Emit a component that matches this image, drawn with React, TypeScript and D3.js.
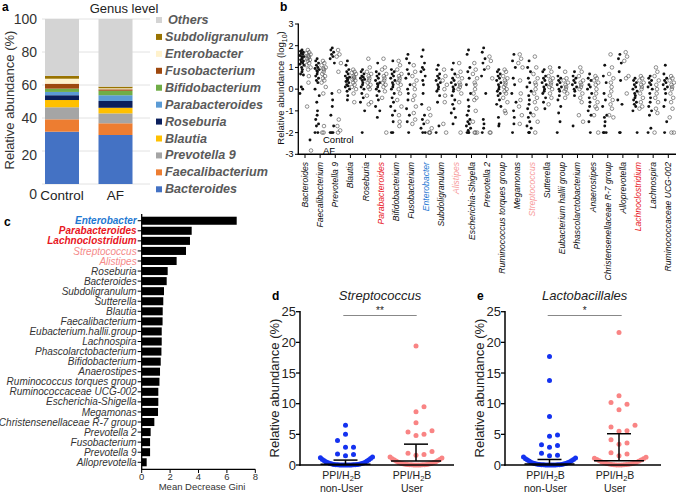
import React from "react";
import * as d3 from "d3";

// ---------- Panel a data ----------
const aGenera = ["Bacteroides", "Faecalibacterium", "Prevotella 9", "Blautia", "Roseburia", "Parabacteroides", "Bifidobacterium", "Fusobacterium", "Enterobacter", "Subdoligranulum", "Others"];
const aGroups = ["Control", "AF"];
const aControl = [31.7, 7.5, 7.3, 4.4, 2.9, 2.0, 2.0, 3.0, 3.0, 1.7, 34.5];
const aAF = [29.7, 7.1, 6.0, 3.4, 4.1, 3.5, 2.7, 0.9, 0.6, 1.0, 41.0];
const aColors = ["#4472C4", "#ED7D31", "#A5A5A5", "#FFC000", "#0B1F5C", "#5B9BD5", "#70AD47", "#9E480E", "#FFF2CC", "#997300", "#D4D4D4"];
const aTicks = [0, 20, 40, 60, 80, 100];

// ---------- Panel b data ----------
const bCats = ["Bacteroides", "Faecalibacterium", "Prevotella 9", "Blautia", "Roseburia", "Parabacteroides", "Bifidobacterium", "Fusobacterium", "Enterobacter", "Subdoligranulum", "Alistipes", "Escherichia-Shigella", "Prevotella 2", "Ruminococcus torques group", "Megamonas", "Streptococcus", "Sutterella", "Eubacterium hallii group", "Phascolarctobacterium", "Anaerostipes", "Christensenellaceae R-7 group", "Alloprevotella", "Lachnoclostridium", "Lachnospira", "Ruminococcaceae UCG-002"];
const bControl: number[][] = [
  [1.8, 1.75, 1.7, 1.65, 1.6, 1.55, 1.5, 1.5, 1.45, 1.4, 1.35, 1.3, 1.25, 1.2, 1.15, 1.1, 1.0, 0.9, 0.8, 0.7, 0.65, 0.1, 0.0, -0.2],
  [1.4, 1.3, 1.2, 1.1, 1.0, 0.95, 0.9, 0.85, 0.8, 0.7, 0.6, 0.5, 0.4, 0.3, 0.0, -0.3, -0.6, -1.0, -1.2, -1.4, -1.6, -1.7, -2, -2],
  [1.9, 1.8, 1.7, 1.6, 1.5, 1.4, 1.2, -0.2, -0.5, -0.8, -1.2, -1.7, -2, -2, -2],
  [1.3, 1.1, 0.9, 0.8, 0.7, 0.6, 0.55, 0.5, 0.45, 0.4, 0.35, 0.3, 0.2, 0.15, 0.1, 0.0, -0.1, -0.3, -0.5],
  [0.9, 0.8, 0.7, 0.6, 0.55, 0.5, 0.45, 0.4, 0.3, 0.2, 0.1, 0.0, -0.2, -0.4, -0.6, -1.0, -2],
  [1.2, 0.8, 0.7, 0.6, 0.5, 0.4, 0.3, 0.25, 0.2, 0.1, 0.0, -0.1, -0.3, -0.5, -0.8, -1.0, -1.3],
  [1.3, 0.9, 0.8, 0.7, 0.6, 0.5, 0.4, 0.3, 0.2, 0.1, 0.0, -0.2, -0.4, -0.6, -0.8, -1.0, -1.2, -1.5, -2, -2],
  [1.6, 1.4, 1.2, 0.9, 0.7, 0.5, 0.2, 0.0, -0.2, -0.5, -0.9, -1.2, -1.5, -2],
  [1.8, 1.5, 1.2, 1.0, 0.9, 0.8, 0.6, 0.4, 0.2, -0.2, -0.7, -1.2, -1.4, -1.6, -1.8, -2, -2],
  [1.1, 0.9, 0.7, 0.6, 0.5, 0.4, 0.3, 0.2, 0.1, 0.0, -0.1, -0.3, -0.6, -1.7, -2],
  [1.2, 0.9, 0.7, 0.5, 0.4, 0.3, 0.2, 0.1, 0.0, -0.1, -0.3, -0.5, -0.7, -0.9, -1.1, -1.3, -1.6],
  [1.8, 1.6, 1.0, 0.8, 0.5, 0.2, -0.2, -0.5, -0.8, -1.0, -1.2, -1.4, -1.5, -1.6, -1.7, -1.8, -1.9, -2, -2, -2],
  [1.9, 1.7, 1.4, 1.2, 0.9, 0.6, -0.2, -1.4, -1.6, -1.8, -2],
  [0.9, 0.8, 0.7, 0.6, 0.5, 0.4, 0.3, 0.2, 0.1, 0.0, -0.1, -0.2, -0.3, -0.5, -0.7, -0.8, -1.3, -1.6, -1.7],
  [1.6, 1.3, 1.0, 0.5, 0.2, -0.2, -0.6, -1.0, -1.3, -1.6, -2],
  [1.3, 1.0, 0.8, 0.5, 0.3, 0.1, -0.1, -0.3, -0.5, -0.7, -0.9, -1.1, -1.3, -1.5, -1.7, -1.8, -2, -2, -2],
  [0.9, 0.8, 0.6, 0.5, 0.4, 0.3, 0.2, 0.1, 0.0, -0.1, -0.2, -0.4, -0.6, -0.9],
  [1.0, 0.6, 0.5, 0.4, 0.3, 0.2, 0.1, 0.0, -0.1, -0.3, -0.5, -0.8, -1.1, -1.5, -2],
  [0.8, 0.6, 0.5, 0.4, 0.3, 0.2, 0.1, 0.0, -0.1, -0.3, -1.7],
  [0.7, 0.5, 0.4, 0.2, 0.1, 0.0, -0.2, -0.4, -0.6, -0.8, -1.0, -1.2, -1.5, -2],
  [1.1, 0.6, 0.3, -0.2, -0.5, -0.8, -1.2, -1.3, -1.5, -1.7, -2, -2, -2],
  [1.6, 1.4, 1.2, 0.8, 0.4, -0.5, -0.7, -2, -2],
  [0.5, 0.4, 0.3, 0.2, 0.1, 0.0, -0.1, -0.2, -0.3, -0.4, -0.5, -0.6, -0.7, -0.8, -1.0, -2],
  [0.6, 0.5, 0.4, 0.3, 0.2, 0.1, 0.0, -0.2, -0.4, -0.6, -0.8, -1.0, -1.2, -1.8, -2],
  [1.1, 0.7, 0.5, 0.4, 0.3, 0.2, 0.1, 0.0, -0.2, -0.5, -0.8, -1.5, -2],
];
const bAF: number[][] = [
  [1.8, 1.7, 1.65, 1.6, 1.55, 1.5, 1.45, 1.4, 1.35, 1.3, 1.2, 1.1, 1.0, 0.9, 0.6, 0.3, -0.8],
  [1.3, 1.2, 1.1, 1.0, 0.95, 0.9, 0.8, 0.7, 0.6, 0.5, 0.4, 0.3, 0.1, -0.2, -1.7, -2, -2],
  [1.8, 1.6, 1.5, 1.2, 0.8, -0.1, -1.4, -1.7, -1.9, -2],
  [0.9, 0.8, 0.75, 0.7, 0.6, 0.55, 0.5, 0.45, 0.4, 0.3, 0.2, 0.1, 0.0, -0.2, -0.6],
  [1.4, 1.0, 0.8, 0.7, 0.6, 0.5, 0.4, 0.3, 0.2, 0.1, 0.0, -0.3, -0.6, -0.7],
  [1.4, 1.0, 0.9, 0.7, 0.6, 0.5, 0.4, 0.3, 0.2, 0.1, -0.1, -0.4, -2],
  [1.3, 1.1, 0.9, 0.7, 0.6, 0.5, 0.4, 0.3, 0.2, 0.0, -0.2, -0.5, -0.8, -1.2, -1.5, -1.7],
  [1.1, 0.8, 0.6, 0.4, 0.2, 0.0, -0.3, -0.5, -0.8, -1.1, -1.4, -1.6],
  [-0.9, -1.2, -1.5, -1.8, -2, -2, -2],
  [0.9, 0.6, 0.4, 0.2, 0.0, -0.3, -0.6, -1.6, -2],
  [1.2, 0.8, 0.6, 0.5, 0.3, 0.2, 0.1, 0.0, -0.2, -0.6, -2],
  [1.2, 0.9, 0.7, 0.5, 0.3, 0.2, 0.0, -0.2, -0.4, -0.5, -1.0, -1.5, -2, -2, -2],
  [1.5, 1.3, 1.0, 0.5, -2, -2],
  [0.9, 0.8, 0.6, 0.5, 0.4, 0.3, 0.2, 0.1, 0.0, -0.1, -0.2, -0.4, -0.6, -1.0, -1.1],
  [1.6, 1.4, 1.2, 1.0, 0.4, -0.2, -0.5, -0.8, -1.2, -1.6],
  [1.5, 1.0, 0.7, 0.5, 0.3, 0.2, 0.0, -0.2, -0.4, -0.6, -0.9, -1.2, -1.5, -2],
  [1.0, 0.8, 0.6, 0.5, 0.4, 0.3, 0.2, 0.1, 0.0, -0.2, -0.4, -0.7],
  [0.8, 0.5, 0.4, 0.3, 0.2, 0.1, 0.0, -0.1, -0.2, -0.4],
  [1.0, 0.8, 0.6, 0.4, 0.3, 0.2, 0.1, 0.0, -0.2, -0.4, -0.6, -1.2, -1.5],
  [0.6, 0.5, 0.4, 0.3, 0.2, 0.0, -0.2, -0.4, -0.6, -0.8, -0.9, -1.2, -2],
  [1.6, 1.0, 0.7, 0.5, 0.3, 0.1, -0.1, -0.3, -0.5, -0.7, -0.9, -1.2, -1.3],
  [1.7, 1.5, 1.3, 0.6, 0.5, -0.2],
  [0.6, 0.5, 0.4, 0.3, 0.2, 0.1, 0.0, -0.2, -0.4, -0.6, -0.8, -0.9],
  [1.0, 0.8, 0.6, 0.4, 0.2, 0.0, -0.2, -0.4, -0.6, -0.9, -1.1, -2],
  [0.6, 0.5, 0.4, 0.3, 0.2, 0.1, 0.0, -0.2, -0.4, -0.6, -0.9, -1.3, -2, -2],
];
const bTicks = [-3, -2, -1, 0, 1, 2, 3];
const bHighlight: Record<string, string> = {
  Parabacteroides: "#E8161E",
  Enterobacter: "#1E78D2",
  Alistipes: "#F79A9A",
  Streptococcus: "#F79A9A",
  Lachnoclostridium: "#E8161E",
};

// ---------- Panel c data ----------
const cCats = ["Enterobacter", "Parabacteroides", "Lachnoclostridium", "Streptococcus", "Alistipes", "Roseburia", "Bacteroides", "Subdoligranulum", "Sutterella", "Blautia", "Faecalibacterium", "Eubacterium.hallii.group", "Lachnospira", "Phascolarctobacterium", "Bifidobacterium", "Anaerostipes", "Ruminococcus torques group", "Ruminococcaceae UCG-002", "Escherichia-Shigella", "Megamonas", "Christensenellaceae R-7 group", "Prevotella 2", "Fusobacterium", "Prevotella 9", "Alloprevotella"];
const cVals = [6.69, 3.52, 3.4, 3.12, 2.46, 1.83, 1.76, 1.57, 1.52, 1.48, 1.47, 1.41, 1.41, 1.39, 1.34, 1.29, 1.25, 1.17, 1.17, 1.15, 0.89, 0.63, 0.59, 0.59, 0.35];
const cTicks = [0, 2, 4, 6, 8];
const cStyle: Record<string, { color: string; bold: boolean }> = {
  Enterobacter: { color: "#1E78D2", bold: true },
  Parabacteroides: { color: "#E8161E", bold: true },
  Lachnoclostridium: { color: "#E8161E", bold: true },
  Streptococcus: { color: "#F58A8A", bold: false },
  Alistipes: { color: "#F58A8A", bold: false },
};

// ---------- Panels d, e data ----------
const deGroups = ["non-User", "User"];
const deTicks = [0, 5, 10, 15, 20, 25];
const dNonUser = [6.5, 5.0, 4.0, 2.9, 2.9, 1.8, 1.7, 1.5,
  1.3, 1.2, 1.05, 0.9, 0.8, 0.7, 0.6, 0.5, 0.42, 0.35, 0.3, 0.25, 0.2, 0.16, 0.12, 0.1, 0.08, 0.06, 0.05, 0.04, 0.03, 0.02, 0.02, 0.01, 0.01, 0, 0, 0];
const dUser = [19.4, 9.5, 8.7, 6.9, 5.6, 5.4, 5.0, 4.8, 2.2, 1.9, 1.7, 1.6,
  1.3, 1.15, 1.0, 0.9, 0.8, 0.7, 0.6, 0.5, 0.42, 0.35, 0.3, 0.25, 0.2, 0.16, 0.12, 0.1, 0.08, 0.06, 0.05, 0.04, 0.03, 0.02, 0.01, 0, 0];
const dStats = { median: [0.12, 0.65], upper: [0.8, 3.4] };
const eNonUser = [17.7, 13.8, 7.9, 4.9, 4.7, 3.3, 3.2, 2.9, 1.9, 1.6, 1.5,
  1.3, 1.15, 1.0, 0.9, 0.8, 0.7, 0.6, 0.5, 0.42, 0.35, 0.3, 0.25, 0.2, 0.16, 0.12, 0.1, 0.08, 0.06, 0.05, 0.04, 0.03, 0.02, 0.01, 0.01, 0, 0, 0];
const eUser = [21.6, 11.3, 10.2, 9.9, 9.0, 6.5, 6.2, 5.6, 5.5, 4.1, 3.6, 3.4, 2.0, 1.8, 1.5,
  1.25, 1.1, 1.0, 0.9, 0.8, 0.7, 0.6, 0.5, 0.42, 0.35, 0.3, 0.25, 0.2, 0.16, 0.12, 0.1, 0.08, 0.06, 0.04, 0.02, 0.01, 0];
const eStats = { median: [0.15, 0.7], upper: [0.9, 5.1] };

const FONT = "'Liberation Sans', Arial, Helvetica, sans-serif";
const BLUE = "#1432F0";
const SALMON = "#F98484";

type Pt = { v: number; x: number; y: number };

// Prism-like arrangement: sorted values, grouped rows, alternating outward
function arrange(vals: number[], y: (v: number) => number, cx: number, thresh: number, maxW: number, maxStep: number): Pt[] {
  const sorted = [...vals].sort((a, b) => a - b);
  const groups: number[][] = [];
  let cur: number[] = [];
  let startY = 0;
  sorted.forEach((v) => {
    const py = y(v);
    if (cur.length === 0 || startY - py >= thresh) {
      if (cur.length) groups.push(cur);
      cur = [v];
      startY = py;
    } else cur.push(v);
  });
  if (cur.length) groups.push(cur);
  const out: Pt[] = [];
  groups.forEach((g) => {
    const step = Math.min(maxStep, maxW / g.length);
    g.forEach((v, k) => {
      const side = k % 2 === 1 ? 1 : -1;
      const off = k === 0 ? 0 : side * Math.ceil(k / 2) * step;
      out.push({ v, x: cx + off, y: y(v) });
    });
  });
  return out;
}

function PanelA() {
  const y = d3.scaleLinear().domain([0, 100]).range([184, 19]);
  const x = d3.scalePoint<string>().domain(aGroups).range([62, 115.5]);
  const barW = 34;
  const table = aGroups.map((grp) => {
    const o: Record<string, number | string> = { group: grp };
    aGenera.forEach((g, i) => (o[g] = grp === "Control" ? aControl[i] : aAF[i]));
    return o;
  });
  const stack = d3.stack<any>().keys(aGenera)(table as any);
  const legendOrder = [...aGenera].reverse();
  return (
    <g fontFamily={FONT}>
      <text x={2} y={11} fontSize={12} fontWeight="bold">a</text>
      <text x={124} y={13} fontSize={13} textAnchor="middle" fill="#222">Genus level</text>
      {aTicks.map((t) => (
        <line key={t} x1={42} x2={150} y1={y(t)} y2={y(t)} stroke="#DADADA" strokeWidth={0.8} />
      ))}
      {aTicks.map((t) => (
        <text key={t} x={37} y={y(t) + (t === 0 ? 15 : t === 20 ? 9 : 5)} fontSize={14} textAnchor="end" fill="#333">{t}</text>
      ))}
      <text transform={`translate(14,${100}) rotate(-90)`} fontSize={13} textAnchor="middle" fill="#333">Relative abundance (%)</text>
      {stack.map((layer, li) =>
        layer.map((d, j) => (
          <rect key={`${li}-${j}`} x={(x(aGroups[j]) as number) - barW / 2} y={y(d[1])} width={barW} height={y(d[0]) - y(d[1])} fill={aColors[li]} />
        ))
      )}
      {aGroups.map((g) => (
        <text key={g} x={x(g)} y={200} fontSize={13.5} textAnchor="middle" fill="#222">{g}</text>
      ))}
      {legendOrder.map((g, i) => {
        const ci = aGenera.indexOf(g);
        const cy = 20 + i * 16.93;
        return (
          <g key={g}>
            <rect x={156} y={cy - 3} width={6} height={6} fill={aColors[ci]} />
            <text x={g === "Others" ? 168 : 165} y={cy + 4} fontSize={12.6} fontWeight="bold" fontStyle="italic" fill="#5A5A5A">{g}</text>
          </g>
        );
      })}
    </g>
  );
}

function PanelB() {
  const x = d3.scalePoint<string>().domain(bCats).range([305, 668.3]);
  const y = d3.scaleLinear().domain([-3, 3]).range([154.3, 24]);
  const jit = [0, -1.4, 1.4, -0.7, 0.7, -2.1, 2.1, -0.35, 0.35];
  return (
    <g fontFamily={FONT}>
      <text x={280} y={11} fontSize={12} fontWeight="bold">b</text>
      <text transform="translate(284,88) rotate(-90)" fontSize={9.5} textAnchor="middle" fill="#111">
        Relative abundance (log<tspan fontSize={7} dy={2.5}>10</tspan><tspan dy={-2.5}>)</tspan>
      </text>
      {bCats.map((c, ci) => {
        const cx = x(c) as number;
        const ctrl = [...bControl[ci]].sort((a, b) => b - a);
        const af = [...bAF[ci]].sort((a, b) => b - a);
        return (
          <g key={c}>
            {ctrl.map((v, i) => (
              <circle key={"c" + i} cx={cx - 3 + jit[i % jit.length]} cy={y(v)} r={1.45} fill="#111" />
            ))}
            {af.map((v, i) => (
              <circle key={"a" + i} cx={cx + 3.5 + jit[(i + 3) % jit.length]} cy={y(v)} r={1.8} fill="none" stroke="#555" strokeWidth={0.65} />
            ))}
          </g>
        );
      })}
      <line x1={298.3} x2={298.3} y1={23.5} y2={155} stroke="#000" strokeWidth={1.3} />
      {bTicks.map((t) => (
        <g key={t}>
          <line x1={295} x2={298.3} y1={y(t)} y2={y(t)} stroke="#000" strokeWidth={1} />
          <text x={293.5} y={y(t) + 3} fontSize={9} textAnchor="end">{t}</text>
        </g>
      ))}
      <line x1={297.7} x2={676} y1={154.3} y2={154.3} stroke="#000" strokeWidth={1.5} />
      {bCats.map((c) => (
        <g key={c}>
          <line x1={x(c)} x2={x(c)} y1={154.3} y2={158} stroke="#000" strokeWidth={1} />
          <text transform={`translate(${(x(c) as number) + 3},${162}) rotate(-90)`} fontSize={8.6} fontStyle="italic" textAnchor="end" fill={bHighlight[c] || "#111"}>{c}</text>
        </g>
      ))}
      <circle cx={310} cy={140} r={1.45} fill="#111" />
      <text x={323} y={143} fontSize={9.5}>Control</text>
      <circle cx={311} cy={150.5} r={1.8} fill="none" stroke="#555" strokeWidth={0.65} />
      <text x={323} y={153.5} fontSize={9.5}>AF</text>
    </g>
  );
}

function PanelC() {
  const y = d3.scaleBand<string>().domain(cCats).range([215.7, 467.3]).paddingInner(0.2).paddingOuter(0.1);
  const x = d3.scaleLinear().domain([0, 8]).range([141.7, 255.3]);
  return (
    <g fontFamily={FONT}>
      <text x={4} y={226} fontSize={12} fontWeight="bold">c</text>
      {cCats.map((c, i) => (
        <rect key={c} x={x(0)} y={y(c)} width={x(cVals[i]) - x(0)} height={y.bandwidth()} fill="#000" />
      ))}
      <line x1={x(0)} x2={x(0)} y1={214} y2={469.3} stroke="#000" strokeWidth={1.3} />
      {cCats.map((c) => {
        const cy = (y(c) as number) + y.bandwidth() / 2;
        const st = cStyle[c];
        return (
          <g key={c}>
            <line x1={x(0) - 4} x2={x(0)} y1={cy} y2={cy} stroke="#000" strokeWidth={1} />
            <text x={x(0) - 5} y={cy + 3.6} fontSize={10} fontStyle="italic" textAnchor="end" fontWeight={st && st.bold ? "bold" : "normal"} fill={st ? st.color : "#333"}>{c}</text>
          </g>
        );
      })}
      <line x1={x(0) - 0.6} x2={x(8)} y1={469.3} y2={469.3} stroke="#000" strokeWidth={1.3} />
      {cTicks.map((t) => (
        <g key={t}>
          <line x1={x(t)} x2={x(t)} y1={469.3} y2={473} stroke="#000" strokeWidth={1} />
          <text x={x(t)} y={480} fontSize={9.5} textAnchor="middle" fill="#333">{t}</text>
        </g>
      ))}
      <text x={202} y={490} fontSize={9.5} textAnchor="middle" fill="#333">Mean Decrease Gini</text>
    </g>
  );
}

function DotPanel(props: { letter: string; title: string; sig: string; axisX: number; axisEnd: number; centers: [number, number]; nonUser: number[]; user: number[]; stats: { median: number[]; upper: number[] }; sigX: [number, number] }) {
  const { letter, title, sig, axisX, axisEnd, centers, nonUser, user, stats, sigX } = props;
  const y = d3.scaleLinear().domain([0, 25]).range([465, 311.7]);
  const x = d3.scalePoint<string>().domain(deGroups).range(centers);
  const r = 2.5;
  const ptsN = arrange(nonUser, y, x("non-User") as number, 8.5, 54, 8);
  const ptsU = arrange(user, y, x("User") as number, 8.5, 54, 8);
  const titleX = (sigX[0] + sigX[1]) / 2;
  return (
    <g fontFamily={FONT}>
      <text x={axisX - 28} y={300} fontSize={12} fontWeight="bold">{letter}</text>
      <text x={titleX} y={300} fontSize={13} fontStyle="italic" textAnchor="middle" fill="#222">{title}</text>
      <line x1={sigX[0]} x2={sigX[1]} y1={315.5} y2={315.5} stroke="#888" strokeWidth={1} />
      <text x={titleX} y={314} fontSize={10} textAnchor="middle" fill="#222">{sig}</text>
      <text transform={`translate(${axisX - 21},388) rotate(-90)`} fontSize={13} textAnchor="middle" fill="#222">Relative abundance (%)</text>
      {deTicks.map((t) => (
        <g key={t}>
          <line x1={axisX - 4} x2={axisX} y1={y(t)} y2={y(t)} stroke="#000" strokeWidth={1.3} />
          <text x={axisX - 4} y={y(t) + 4.5} fontSize={13} textAnchor="end" fill="#222">{t}</text>
        </g>
      ))}
      {ptsN.map((p, i) => (
        <circle key={"n" + i} cx={p.x} cy={p.y} r={r} fill={BLUE} />
      ))}
      {ptsU.map((p, i) => (
        <circle key={"u" + i} cx={p.x} cy={p.y} r={r} fill={SALMON} />
      ))}
      {deGroups.map((g, gi) => {
        const cx = x(g) as number;
        return (
          <g key={g} stroke="#000" strokeWidth={1.5}>
            <line x1={cx - 25} x2={cx + 25} y1={y(stats.median[gi])} y2={y(stats.median[gi])} />
            <line x1={cx - 12} x2={cx + 12} y1={y(stats.upper[gi])} y2={y(stats.upper[gi])} />
            <line x1={cx} x2={cx} y1={y(stats.median[gi])} y2={y(stats.upper[gi])} />
          </g>
        );
      })}
      <line x1={axisX} x2={axisX} y1={y(25) - 0.7} y2={y(0) + 0.7} stroke="#000" strokeWidth={1.5} />
      <line x1={axisX - 0.7} x2={axisEnd} y1={y(0)} y2={y(0)} stroke="#000" strokeWidth={1.5} />
      {deGroups.map((g) => (
        <g key={g}>
          <text x={(x(g) as number) - 4} y={479} fontSize={10.5} textAnchor="middle" fill="#222">
            PPI/H<tspan fontSize={7.5} dy={2}>2</tspan><tspan dy={-2}>B</tspan>
          </text>
          <text x={(x(g) as number) - 4} y={492} fontSize={10.5} textAnchor="middle" fill="#222">{g}</text>
        </g>
      ))}
    </g>
  );
}

export default function App() {
  return (
    <svg width={676} height={493} style={{ position: "absolute", left: 0, top: 0, background: "#fff" }}>
      <rect x={0} y={0} width={676} height={493} fill="#fff" />
      <PanelA />
      <PanelB />
      <PanelC />
      <DotPanel letter="d" title="Streptococcus" sig="**" axisX={300} axisEnd={454} centers={[345.5, 416]} nonUser={dNonUser} user={dUser} stats={dStats} sigX={[343.3, 416.7]} />
      <DotPanel letter="e" title="Lactobacillales" sig="*" axisX={505} axisEnd={661} centers={[549.5, 619]} nonUser={eNonUser} user={eUser} stats={eStats} sigX={[547.7, 621.7]} />
    </svg>
  );
}
